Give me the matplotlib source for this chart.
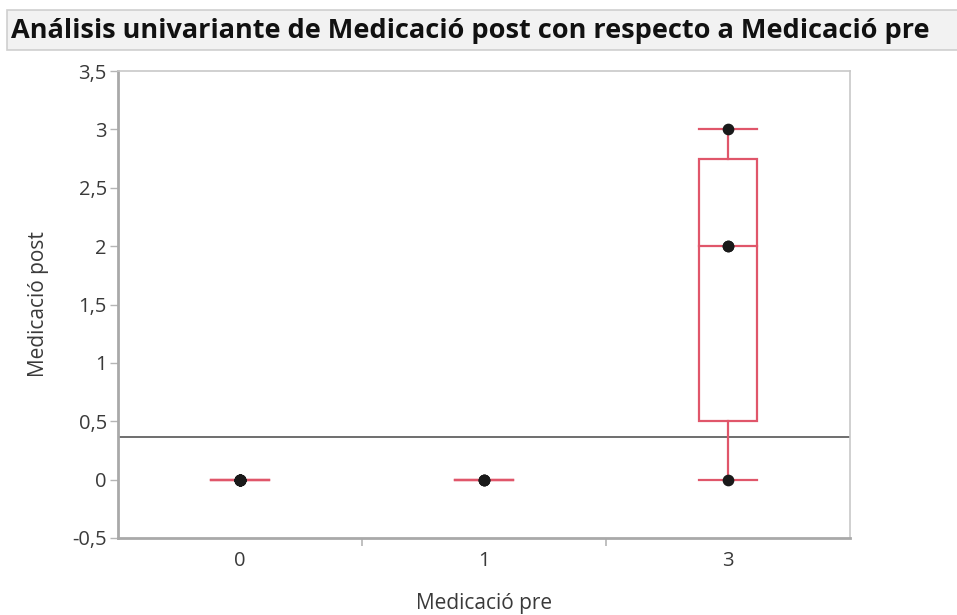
import matplotlib.pyplot as plt
import matplotlib.patches as mpatches
from matplotlib.ticker import FuncFormatter, FixedLocator
import numpy as np

plt.rcParams['font.family'] = ['Open Sans', 'DejaVu Sans']

# data: Medicació post per grup de Medicació pre
categories = ['0', '1', '3']
group_0 = [0, 0, 0, 0, 0, 0, 0, 0, 0, 0, 0, 0]
group_1 = [0, 0, 0]
group_3 = [0, 2, 2, 3]
groups = [group_0, group_1, group_3]

title = 'Análisis univariante de Medicació post con respecto a Medicació pre'
xlabel = 'Medicació pre'
ylabel = 'Medicació post'
yticks = [-0.5, 0, 0.5, 1, 1.5, 2, 2.5, 3, 3.5]

red = '#e0566a'
axis_grey = '#a9a9a9'
text_col = '#3a3a3a'


def jmp_quantile(vals, p):
    # quantile as JMP computes it: position p*(n+1)
    v = np.sort(vals)
    n = len(v)
    pos = p * (n + 1)
    if pos <= 1:
        return v[0]
    if pos >= n:
        return v[-1]
    lo = int(np.floor(pos))
    frac = pos - lo
    return v[lo - 1] + frac * (v[lo] - v[lo - 1])


fig = plt.figure(figsize=(9.57, 6.15), dpi=100)

# title bar
bar = mpatches.Rectangle((7 / 957, 1 - 50 / 615), 1, 40 / 615, transform=fig.transFigure,
                         facecolor='#f2f2f2', edgecolor='#cfcfcf', linewidth=1.2)
fig.patches.append(bar)
fig.text(11 / 957, 1 - 31 / 615, title, fontsize=19.5, fontweight='bold',
         va='center', ha='left', color='#111111')

ax = fig.add_axes([118 / 957, 1 - 538 / 615, 732 / 957, 467 / 615])

box_w = 0.24
for i, vals in enumerate(groups):
    q1 = jmp_quantile(vals, 0.25)
    med = jmp_quantile(vals, 0.5)
    q3 = jmp_quantile(vals, 0.75)
    lo, hi = min(vals), max(vals)
    if q3 > q1:
        ax.add_patch(mpatches.Rectangle((i - box_w / 2, q1), box_w, q3 - q1,
                                        facecolor='none', edgecolor=red, lw=1.6, zorder=3))
    ax.plot([i - box_w / 2, i + box_w / 2], [med, med], color=red, lw=1.6, zorder=3)
    ax.plot([i, i], [q3, hi], color=red, lw=1.6, zorder=3)
    ax.plot([i, i], [lo, q1], color=red, lw=1.6, zorder=3)
    ax.plot([i - box_w / 2, i + box_w / 2], [hi, hi], color=red, lw=1.6, zorder=3)
    ax.plot([i - box_w / 2, i + box_w / 2], [lo, lo], color=red, lw=1.6, zorder=3)
    ax.scatter([i] * len(vals), vals, s=55, color='#1a1a1a', zorder=4)

grand_mean = np.mean(group_0 + group_1 + group_3)
ax.axhline(grand_mean, color='#6e6e6e', lw=1.4, zorder=2)

ax.set_xlim(-0.5, 2.5)
ax.set_ylim(-0.5, 3.5)
ax.set_xticks(range(len(categories)))
ax.set_xticklabels(categories)
ax.xaxis.set_minor_locator(FixedLocator([0.5, 1.5]))
ax.tick_params(axis='x', which='major', length=0, pad=9, labelsize=14.5, labelcolor=text_col)
ax.tick_params(axis='x', which='minor', length=6, width=1.2, color='#b5b5b5', direction='out')
ax.set_yticks(yticks)
ax.yaxis.set_major_formatter(FuncFormatter(lambda v, _: ('%g' % v).replace('.', ',')))
ax.tick_params(axis='y', length=6, width=1, color='#b5b5b5', pad=2, labelsize=14.5, labelcolor=text_col)

for side in ['left', 'bottom']:
    ax.spines[side].set_color(axis_grey)
    ax.spines[side].set_linewidth(2)
for side in ['top', 'right']:
    ax.spines[side].set_color('#c8c8c8')
    ax.spines[side].set_linewidth(1.2)

ax.set_xlabel(xlabel, fontsize=15, color=text_col, labelpad=16)
ax.set_ylabel(ylabel, fontsize=15, color=text_col, labelpad=17)

fig.savefig('out.png', dpi=100)
